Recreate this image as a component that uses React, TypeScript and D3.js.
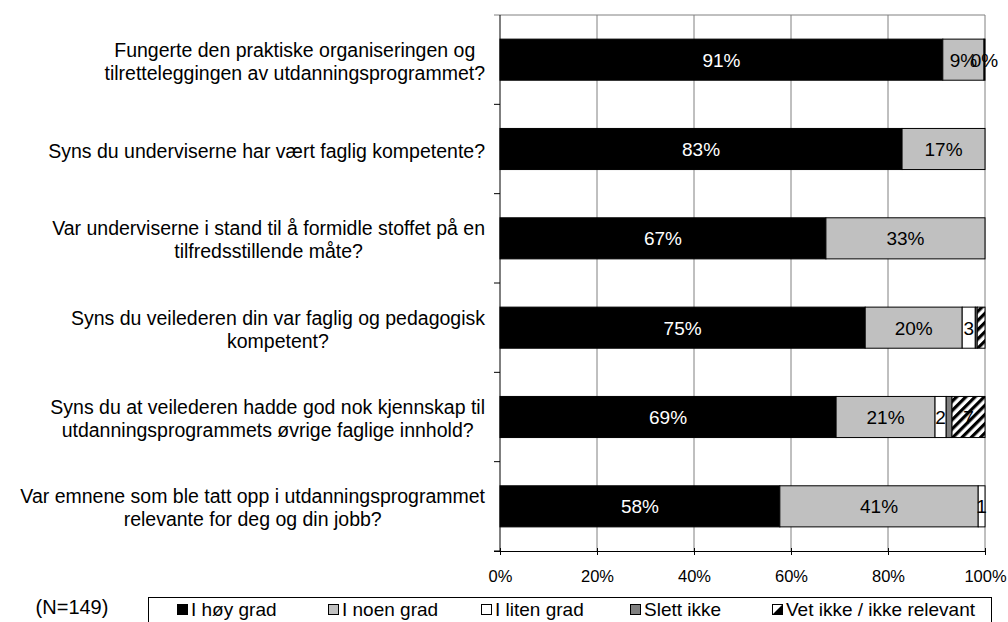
import { useRef, useEffect } from 'react'
import * as d3 from 'd3'

const questions = [
  ['Fungerte den praktiske organiseringen og', 'tilretteleggingen av utdanningsprogrammet?'],
  ['Syns du underviserne har vært faglig kompetente?'],
  ['Var underviserne i stand til å formidle stoffet på en', 'tilfredsstillende måte?'],
  ['Syns du veilederen din var faglig og pedagogisk', 'kompetent?'],
  ['Syns du at veilederen hadde god nok kjennskap til', 'utdanningsprogrammets øvrige faglige innhold?'],
  ['Var emnene som ble tatt opp i utdanningsprogrammet', 'relevante for deg og din jobb?'],
]

const seriesNames = ['I høy grad', 'I noen grad', 'I liten grad', 'Slett ikke', 'Vet ikke / ikke relevant']

// percent per question, per series
const hoyGrad = [91.3, 82.9, 67.2, 75.3, 69.3, 57.7]
const noenGrad = [8.5, 17.1, 32.8, 20.0, 20.4, 40.9]
const litenGrad = [0.2, 0, 0, 2.7, 2.3, 1.4]
const slettIkke = [0, 0, 0, 0.4, 1.2, 0]
const vetIkke = [0, 0, 0, 1.6, 6.8, 0]

// data labels as shown in the chart
const dataLabels = [
  ['91%', '9%', '0%', '', ''],
  ['83%', '17%', '', '', ''],
  ['67%', '33%', '', '', ''],
  ['75%', '20%', '3', '', ''],
  ['69%', '21%', '2', '', '7'],
  ['58%', '41%', '1', '', ''],
]

const xTicks = [0, 20, 40, 60, 80, 100]
const nLabel = '(N=149)'

const fills = ['#000000', '#c0c0c0', '#ffffff', '#808080', 'url(#hatch)']
const labelColors = ['#ffffff', '#000000', '#000000', '#000000', '#000000']

const App = () => {
  const svgRef = useRef<SVGSVGElement>(null)

  useEffect(() => {
    document.body.style.margin = '0'
    const width = 1008
    const height = 622
    const margin = { top: 15, right: 23, bottom: 71, left: 500 }
    const font = 'Liberation Sans, Arial, sans-serif'

    const svg = d3.select(svgRef.current)
    svg.selectAll('*').remove()
    svg.attr('width', width).attr('height', height).style('display', 'block')

    const defs = svg.append('defs')
    const pat = defs.append('pattern')
      .attr('id', 'hatch')
      .attr('patternUnits', 'userSpaceOnUse')
      .attr('width', 6.5).attr('height', 6.5)
      .attr('patternTransform', 'rotate(45)')
    pat.append('rect').attr('width', 6.5).attr('height', 6.5).attr('fill', '#fff')
    pat.append('rect').attr('width', 3.2).attr('height', 6.5).attr('fill', '#000')

    const x = d3.scaleLinear().domain([0, 100]).range([margin.left, width - margin.right])
    const y = d3.scaleBand<number>()
      .domain(d3.range(questions.length))
      .range([margin.top, height - margin.bottom])
      .paddingInner(0.54).paddingOuter(0.27)

    const step = y.step()
    const top = margin.top
    const bottom = height - margin.bottom

    // gridlines
    svg.append('g').selectAll('line')
      .data(xTicks.slice(1))
      .enter().append('line')
      .attr('x1', d => x(d)).attr('x2', d => x(d))
      .attr('y1', top).attr('y2', bottom)
      .attr('stroke', '#808080').attr('stroke-width', 1)
    svg.append('line')
      .attr('x1', x(0) - 6).attr('x2', x(100))
      .attr('y1', top).attr('y2', top)
      .attr('stroke', '#808080')

    const rows = questions.map((_, i) => [hoyGrad[i], noenGrad[i], litenGrad[i], slettIkke[i], vetIkke[i]])

    rows.forEach((vals, i) => {
      let cum = 0
      const g = svg.append('g')
      vals.forEach((v, s) => {
        const x0 = cum
        cum += v
        if (v > 0) {
          g.append('rect')
            .attr('x', x(x0)).attr('y', y(i)!)
            .attr('width', x(cum) - x(x0)).attr('height', y.bandwidth())
            .attr('fill', fills[s])
            .attr('stroke', '#000').attr('stroke-width', 1)
        }
        const lab = dataLabels[i][s]
        if (lab) {
          g.append('text')
            .attr('x', (x(x0) + x(cum)) / 2)
            .attr('y', y(i)! + y.bandwidth() / 2)
            .attr('dy', '0.36em')
            .attr('text-anchor', 'middle')
            .attr('font-family', font).attr('font-size', 19)
            .attr('fill', labelColors[s])
            .text(lab)
        }
      })
    })

    // y axis
    svg.append('line')
      .attr('x1', x(0)).attr('x2', x(0)).attr('y1', top).attr('y2', bottom)
      .attr('stroke', '#000')
    svg.append('g').selectAll('line')
      .data(d3.range(1, questions.length + 1))
      .enter().append('line')
      .attr('x1', x(0) - 6).attr('x2', x(0))
      .attr('y1', d => top + d * step).attr('y2', d => top + d * step)
      .attr('stroke', '#000')

    // x axis
    const xAxis = svg.append('g')
      .attr('transform', `translate(0,${bottom})`)
      .call(d3.axisBottom(x).tickValues(xTicks).tickSize(4).tickFormat(d => `${d}%`))
    xAxis.select('.domain').attr('d', `M${x(0) - 6},0.5H${x(100)}`).attr('stroke', '#000')
    xAxis.selectAll('.tick line').attr('y1', -3).attr('y2', 4).attr('stroke', '#000')
    xAxis.selectAll('text')
      .attr('font-family', font).attr('font-size', 16.5).attr('fill', '#000')
      .attr('y', 19)

    // category labels
    const labelRight = 485
    questions.forEach((lines, i) => {
      const cy = y(i)! + y.bandwidth() / 2 + 1.5
      const lh = 23
      const g = svg.append('g')
      const texts = lines.map((line, k) =>
        g.append('text')
          .attr('y', cy + (k - (lines.length - 1) / 2) * lh)
          .attr('dy', '0.36em')
          .attr('font-family', font).attr('font-size', 19.5)
          .attr('fill', '#000')
          .text(line)
      )
      const widths = texts.map(t => (t.node() as SVGTextElement).getComputedTextLength())
      const maxW = d3.max(widths) || 0
      texts.forEach(t => t.attr('x', labelRight - maxW / 2).attr('text-anchor', 'middle'))
    })

    // N label
    svg.append('text')
      .attr('x', 72).attr('y', 607).attr('dy', '0.36em')
      .attr('text-anchor', 'middle')
      .attr('font-family', font).attr('font-size', 20)
      .text(nLabel)

    // legend
    const legend = svg.append('g')
    legend.append('rect')
      .attr('x', 148.5).attr('y', 597.5).attr('width', 843).attr('height', 40)
      .attr('fill', '#fff').attr('stroke', '#000')
    const legendX = [177, 328, 481, 630, 772]
    seriesNames.forEach((name, s) => {
      const lx = legendX[s]
      const ly = 604
      if (s === 4) {
        legend.append('rect').attr('x', lx + 0.5).attr('y', ly + 0.5).attr('width', 10).attr('height', 10)
          .attr('fill', '#fff').attr('stroke', '#000')
        legend.append('path')
          .attr('d', `M${lx + 10.5},${ly + 0.5}L${lx + 10.5},${ly + 10.5}L${lx + 0.5},${ly + 10.5}Z`)
          .attr('fill', '#000')
      } else {
        legend.append('rect').attr('x', lx + 0.5).attr('y', ly + 0.5).attr('width', 10).attr('height', 10)
          .attr('fill', fills[s]).attr('stroke', '#000')
      }
      legend.append('text')
        .attr('x', lx + 14).attr('y', ly + 5.5).attr('dy', '0.36em')
        .attr('font-family', font).attr('font-size', 19)
        .text(name)
    })
  }, [])

  return <svg ref={svgRef}></svg>
}

export default App
